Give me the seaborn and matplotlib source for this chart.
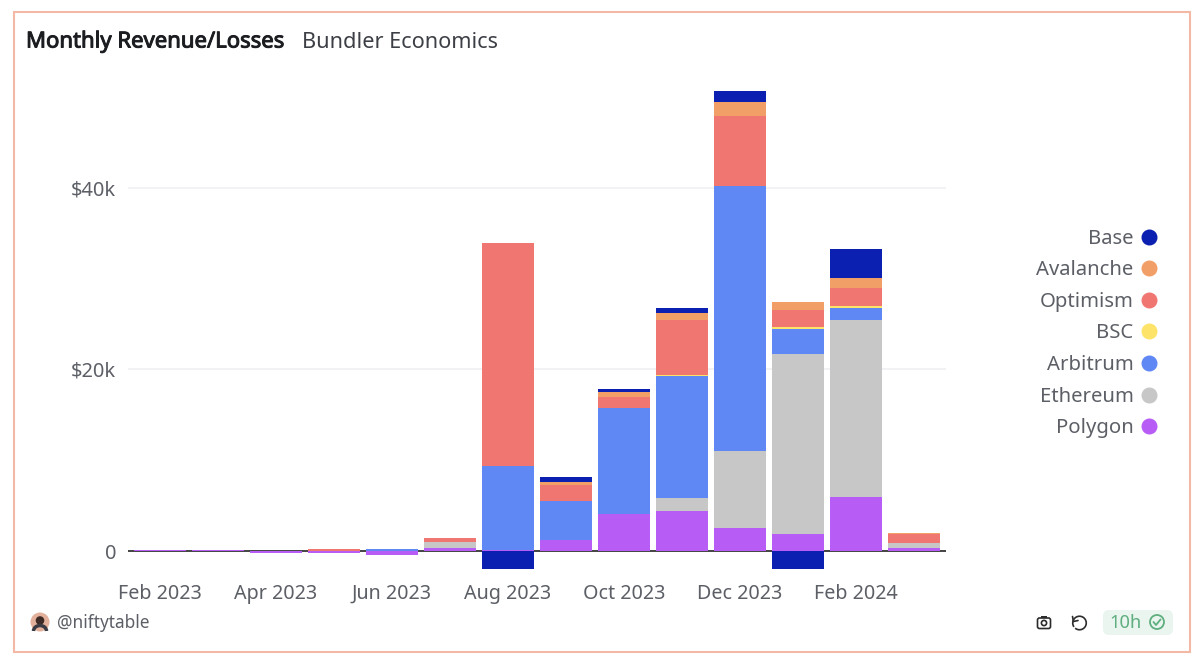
import matplotlib
matplotlib.use("Agg")
import numpy as np
import seaborn as sns
from matplotlib import patheffects as pe
from matplotlib import pyplot as plt
from matplotlib.lines import Line2D
from matplotlib.patches import Arc, Circle, FancyBboxPatch, Rectangle

months = ["Feb 2023", "Mar 2023", "Apr 2023", "May 2023", "Jun 2023", "Jul 2023", "Aug 2023",
          "Sep 2023", "Oct 2023", "Nov 2023", "Dec 2023", "Jan 2024", "Feb 2024", "Mar 2024"]
tick_months = months[::2]

# values in $k
polygon = [0.12, 0.12, -0.18, -0.2, -0.45, 0.38, 0.1, 1.2, 4.1, 4.45, 2.5, 1.85, 6.0, 0.3]
ethereum = [0, 0, 0, 0.05, 0, 0.66, 0, 0, 0, 1.35, 8.55, 19.9, 19.45, 0.65]
arbitrum = [0, 0, 0, 0, 0.25, 0, 9.3, 4.35, 11.7, 13.5, 29.15, 2.75, 1.35, 0]
bsc = [0, 0, 0, 0, 0, 0, 0, 0, 0, 0.1, 0, 0.2, 0.2, 0]
optimism = [0, 0, 0, 0.14, 0, 0.44, 24.5, 1.75, 1.2, 6.0, 7.7, 1.8, 2.0, 0.9]
avalanche = [0, 0, 0, 0, 0, 0, 0, 0.35, 0.55, 0.8, 1.5, 0.95, 1.1, 0.1]
base = [0, 0, 0, 0, 0, 0, -2.0, 0.55, 0.25, 0.6, 1.2, -2.0, 3.2, 0]

series = ["Polygon", "Ethereum", "Arbitrum", "BSC", "Optimism", "Avalanche", "Base"]
values = [polygon, ethereum, arbitrum, bsc, optimism, avalanche, base]
colors = ["#b85cf6", "#c7c7c7", "#6088f5", "#fde468", "#f07672", "#f29f67", "#0b1fb0"]

TEXT = "#5c5f66"
FONT = "Noto Sans"

sns.set_theme(style="white")
plt.rcParams["font.family"] = FONT

W, H = 1199, 667
fig = plt.figure(figsize=(W / 100, H / 100), dpi=100, facecolor="white")


def to_fig(x0, y0, x1, y1):
    # pixel box (y from top) to figure fractions
    return [x0 / W, 1 - y1 / H, (x1 - x0) / W, (y1 - y0) / H]


ax = fig.add_axes(to_fig(128, 80, 946, 575))
ax.set_facecolor("none")

pos_bottom = np.zeros(len(months))
neg_bottom = np.zeros(len(months))
for name, vals, color in zip(series, values, colors):
    vals = np.array(vals, dtype=float)
    bottom = np.where(vals >= 0, pos_bottom, neg_bottom)
    sns.barplot(x=months, y=vals, bottom=bottom, color=color, saturation=1, width=0.895,
                linewidth=0, ax=ax, zorder=3)
    pos_bottom += np.clip(vals, 0, None)
    neg_bottom += np.clip(vals, None, 0)

ax.set_xlim(-0.55, 13.55)
ax.set_ylim(-2.62, 51.85)
ax.axhline(0, color="#111111", lw=1.1, zorder=2)
for v in [20, 40]:
    ax.axhline(v, color="#f0f0f2", lw=1.2, zorder=1)

sns.despine(ax=ax, left=True, bottom=True)
ax.set_xticks(range(0, len(months), 2))
ax.set_xticklabels(tick_months, fontsize=14.2, color=TEXT, va="baseline")
ax.set_yticks([0, 20, 40])
ax.set_yticklabels(["0", "$20k", "$40k"], fontsize=14.4, color=TEXT, va="center_baseline")
ax.tick_params(axis="both", length=0)
ax.tick_params(axis="x", pad=17)
ax.tick_params(axis="y", pad=8.5)

# legend, top entry first
handles = [Line2D([], [], ls="", marker="o", ms=10.5, color=c) for c in colors[::-1]]
fig.legend(handles, series[::-1], loc="center right", bbox_to_anchor=(1163 / W, 1 - 333.5 / H),
           frameon=False, markerfirst=False, fontsize=14.6, labelcolor=TEXT, labelspacing=0.571,
           handletextpad=0.05, handlelength=1.4, borderpad=0, borderaxespad=0)

# overlay in pixel coordinates for card frame, title and footer
ov = fig.add_axes([0, 0, 1, 1], zorder=5)
ov.set_xlim(0, W)
ov.set_ylim(H, 0)
ov.axis("off")
ov.patch.set_alpha(0)
ov.add_patch(Rectangle((14, 12), 1176, 640, fc="none", ec="#f3b9a6", lw=1.5))

# installed Noto Sans has no bold face here, so thicken it with a stroke
title = ov.text(26, 42, "Monthly Revenue/Losses", fontsize=15.9, color="#1b1d21", va="center")
title.set_path_effects([pe.withStroke(linewidth=0.7, foreground="#1b1d21")])
ov.text(302, 42, "Bundler Economics", fontsize=15.6, color="#3c3f45", va="center")

# avatar
ov.add_patch(Circle((40, 622), 9.5, fc="#e3b09c", ec="none"))
ov.add_patch(Circle((40, 620.5), 4.3, fc="#3b2a26", ec="none"))
ov.add_patch(Arc((40, 631), 13, 11, theta1=180, theta2=360, color="#3a3a44", lw=2.5))
ov.text(57, 623, "@niftytable", fontsize=12.4, color=TEXT, va="center")

# camera icon
ov.add_patch(FancyBboxPatch((1037.5, 618), 13, 10.5, boxstyle="round,pad=0,rounding_size=2",
                            fc="none", ec="#2c2c2c", lw=1.2))
ov.add_patch(Rectangle((1041, 616), 6, 2, fc="#2c2c2c", ec="none"))
ov.add_patch(Circle((1044, 623), 2.6, fc="none", ec="#2c2c2c", lw=1.2))

# reload icon
ov.add_patch(Arc((1079.5, 623), 13.5, 13.5, theta1=-215, theta2=130, color="#2c2c2c", lw=1.2))
ov.plot([1072.5, 1073.5, 1078], [616.5, 621.5, 620.5], color="#2c2c2c", lw=1.2)

# freshness badge
ov.add_patch(FancyBboxPatch((1103, 610), 70, 25, boxstyle="round,pad=0,rounding_size=6",
                            fc="#e9f5ee", ec="none"))
ov.text(1109, 623, "10h", fontsize=13.2, color="#5fae80", va="center")
ov.add_patch(Circle((1157, 622), 7, fc="none", ec="#5fae80", lw=1.3))
ov.plot([1153.5, 1156, 1160.5], [622, 625, 619.5], color="#5fae80", lw=1.3)

fig.savefig("out.png", dpi=100, facecolor="white")
